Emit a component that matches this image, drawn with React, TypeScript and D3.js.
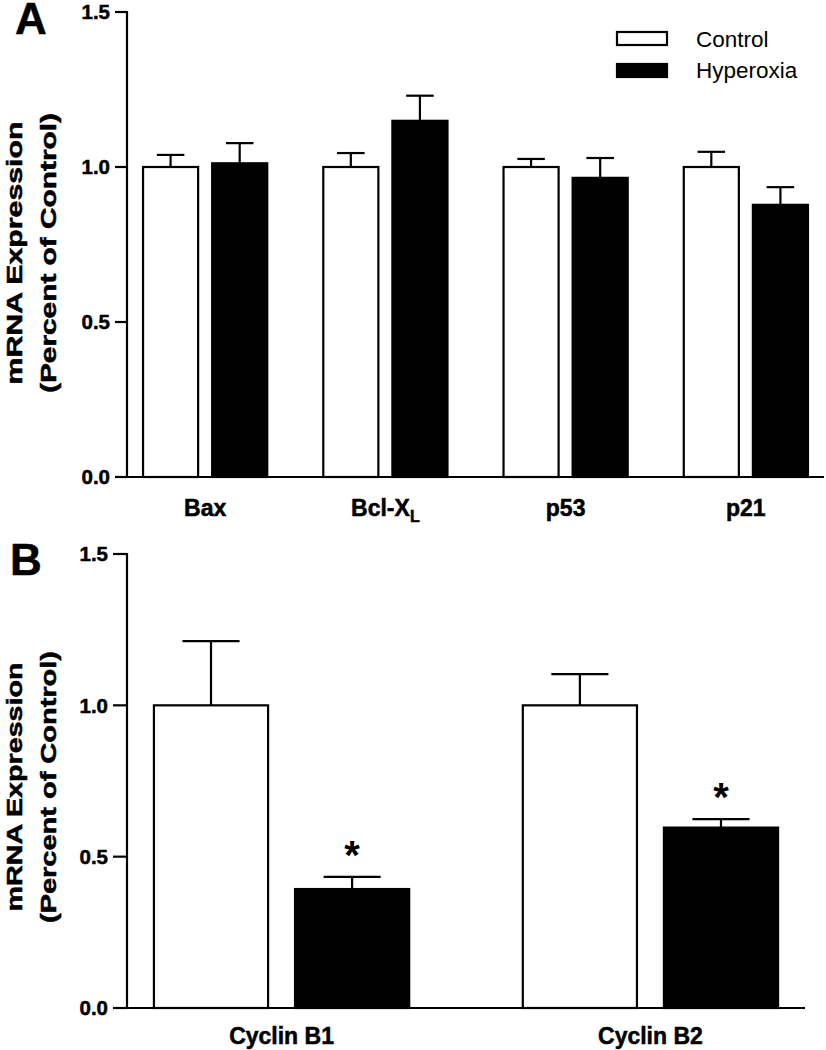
import React from "react";
import * as d3 from "d3";

// ---------- DATA ----------
const seriesNames = ["Control", "Hyperoxia"];

const categoriesA = ["Bax", "Bcl-XL", "p53", "p21"];
const controlA = [1.0, 1.0, 1.0, 1.0];
const controlErrA = [0.039, 0.045, 0.026, 0.049];
const hyperoxiaA = [1.012, 1.149, 0.965, 0.878];
const hyperoxiaErrA = [0.065, 0.081, 0.064, 0.057];

const categoriesB = ["Cyclin B1", "Cyclin B2"];
const controlB = [1.0, 1.0];
const controlErrB = [0.212, 0.103];
const hyperoxiaB = [0.393, 0.596];
const hyperoxiaErrB = [0.04, 0.028];
const significantB = [false, true, false, true]; // per bar: [B1 ctrl, B1 hyp, B2 ctrl, B2 hyp]

const yTicks = [0, 0.5, 1.0, 1.5];

const FONT = "'Liberation Sans', Arial, Helvetica, sans-serif";

type PanelProps = {
  letter: string;
  letterY: number;
  letterX: number;
  categories: string[];
  control: number[];
  controlErr: number[];
  hyper: number[];
  hyperErr: number[];
  stars?: boolean[];
  x0: number;
  x1: number;
  yTop: number;
  yBottom: number;
  outerPad: number;
  innerPad: number;
  subPad: number;
  tickLen: number;
  titleCenter: number;
  titleLen1: number;
  titleLen2: number;
  labelBaseline: number;
};

function Panel(p: PanelProps) {
  const y = d3.scaleLinear().domain([0, 1.5]).range([p.yBottom, p.yTop]);
  const x = d3
    .scaleBand<string>()
    .domain(p.categories)
    .range([p.x0, p.x1])
    .paddingInner(p.innerPad)
    .paddingOuter(p.outerPad);
  const xs = d3
    .scaleBand<string>()
    .domain(seriesNames)
    .range([0, x.bandwidth()])
    .paddingInner(p.subPad);
  const bw = xs.bandwidth();

  const bars: { key: string; cat: string; series: string; v: number; e: number; star: boolean }[] = [];
  p.categories.forEach((c, i) => {
    bars.push({ key: c + "c", cat: c, series: "Control", v: p.control[i], e: p.controlErr[i], star: p.stars ? p.stars[i * 2] : false });
    bars.push({ key: c + "h", cat: c, series: "Hyperoxia", v: p.hyper[i], e: p.hyperErr[i], star: p.stars ? p.stars[i * 2 + 1] : false });
  });

  const heavy = { stroke: "#000", strokeWidth: 0.5 };

  return (
    <g>
      <text x={p.letterX} y={p.letterY} fontFamily={FONT} fontWeight="bold" fontSize={44} {...heavy}>
        {p.letter}
      </text>
      {/* y title */}
      <g transform={`translate(22,${p.titleCenter}) rotate(-90)`}>
        <text
          textAnchor="middle"
          fontFamily={FONT}
          fontWeight="bold"
          fontSize={21.5}
          textLength={p.titleLen1}
          lengthAdjust="spacingAndGlyphs"
          {...heavy}
        >
          mRNA Expression
        </text>
      </g>
      <g transform={`translate(56,${p.titleCenter}) rotate(-90)`}>
        <text
          textAnchor="middle"
          fontFamily={FONT}
          fontWeight="bold"
          fontSize={21.5}
          textLength={p.titleLen2}
          lengthAdjust="spacingAndGlyphs"
          {...heavy}
        >
          (Percent of Control)
        </text>
      </g>
      {/* bars */}
      {bars.map((b) => {
        const bx = (x(b.cat) as number) + (xs(b.series) as number);
        const top = y(b.v);
        const errY = y(b.v + b.e);
        const cx = bx + bw / 2;
        return (
          <g key={b.key}>
            <line x1={cx} x2={cx} y1={top} y2={errY} stroke="#000" strokeWidth={2.2} />
            <line x1={cx - bw / 4} x2={cx + bw / 4} y1={errY} y2={errY} stroke="#000" strokeWidth={2.2} />
            <rect
              x={bx}
              y={top}
              width={bw}
              height={p.yBottom - top}
              fill={b.series === "Control" ? "#fff" : "#000"}
              stroke="#000"
              strokeWidth={2.2}
            />
            {b.star && (
              <text x={cx} y={errY - 8} textAnchor="middle" fontFamily={FONT} fontWeight="bold" fontSize={40}>
                *
              </text>
            )}
          </g>
        );
      })}
      {/* axes */}
      <line x1={p.x0} x2={p.x0} y1={p.yTop - 1} y2={p.yBottom + 1} stroke="#000" strokeWidth={2.2} />
      <line x1={p.x0 - 1} x2={p.x1} y1={p.yBottom} y2={p.yBottom} stroke="#000" strokeWidth={2.2} />
      {yTicks.map((t) => (
        <g key={t}>
          <line x1={p.x0 - p.tickLen} x2={p.x0} y1={y(t)} y2={y(t)} stroke="#000" strokeWidth={2.2} />
          <text
            x={p.x0 - p.tickLen - 5}
            y={y(t)}
            dy="0.36em"
            textAnchor="end"
            fontFamily={FONT}
            fontWeight="bold"
            fontSize={20.5}
            {...heavy}
          >
            {d3.format(".1f")(t)}
          </text>
        </g>
      ))}
      {p.categories.map((c) => {
        const cx = (x(c) as number) + x.bandwidth() / 2;
        if (c === "Bcl-XL") {
          return (
            <text key={c} x={cx} y={p.labelBaseline} textAnchor="middle" fontFamily={FONT} fontWeight="bold" fontSize={23} {...heavy}>
              Bcl-X
              <tspan fontSize={16} dy={6}>
                L
              </tspan>
            </text>
          );
        }
        return (
          <text key={c} x={cx} y={p.labelBaseline} textAnchor="middle" fontFamily={FONT} fontWeight="bold" fontSize={23} {...heavy}>
            {c}
          </text>
        );
      })}
    </g>
  );
}

export default function App() {
  return (
    <svg
      width={826}
      height={1050}
      style={{ position: "absolute", left: 0, top: 0, background: "#fff" }}
    >
      <rect x={0} y={0} width={826} height={1050} fill="#fff" />
      <Panel
        letter="A"
        letterX={15}
        letterY={34}
        categories={categoriesA}
        control={controlA}
        controlErr={controlErrA}
        hyper={hyperoxiaA}
        hyperErr={hyperoxiaErrA}
        x0={127}
        x1={824}
        yTop={12}
        yBottom={477}
        outerPad={0.089}
        innerPad={0.311}
        subPad={0.203}
        tickLen={12}
        titleCenter={253}
        titleLen1={263}
        titleLen2={280}
        labelBaseline={516}
      />
      <Panel
        letter="B"
        letterX={10}
        letterY={575}
        categories={categoriesB}
        control={controlB}
        controlErr={controlErrB}
        hyper={hyperoxiaB}
        hyperErr={hyperoxiaErrB}
        stars={significantB}
        x0={127}
        x1={805}
        yTop={554}
        yBottom={1008}
        outerPad={0.073}
        innerPad={0.308}
        subPad={0.191}
        tickLen={14}
        titleCenter={787}
        titleLen1={249}
        titleLen2={272}
        labelBaseline={1044}
      />
      {/* legend */}
      <g>
        <rect x={617} y={32} width={50} height={13} fill="#fff" stroke="#000" strokeWidth={2.2} />
        <text x={696} y={47} fontFamily={FONT} fontSize={22.5}>
          {seriesNames[0]}
        </text>
        <rect x={617} y={64} width={50} height={13} fill="#000" stroke="#000" strokeWidth={2.2} />
        <text x={696} y={78} fontFamily={FONT} fontSize={22.5}>
          {seriesNames[1]}
        </text>
      </g>
    </svg>
  );
}
